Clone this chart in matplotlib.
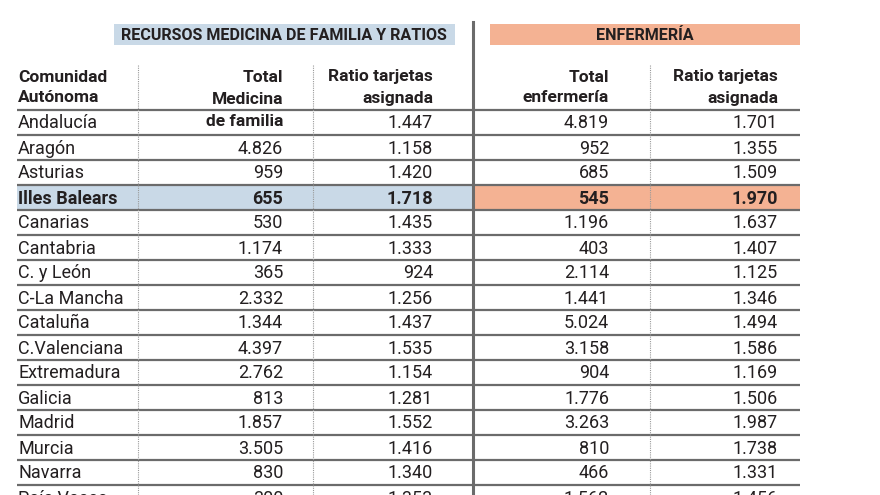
import matplotlib
matplotlib.use("Agg")
import matplotlib.pyplot as plt

# datos de la tabla
comunidades = ["Andalucía", "Aragón", "Asturias", "Illes Balears", "Canarias",
               "Cantabria", "C. y León", "C-La Mancha", "Cataluña",
               "C.Valenciana", "Extremadura", "Galicia", "Madrid", "Murcia",
               "Navarra", "País Vasco"]
total_medicina = ["", "4.826", "959", "655", "530", "1.174", "365", "2.332",
                  "1.344", "4.397", "2.762", "813", "1.857", "3.505", "830",
                  "300"]
ratio_medicina = ["1.447", "1.158", "1.420", "1.718", "1.435", "1.333", "924",
                  "1.256", "1.437", "1.535", "1.154", "1.281", "1.552",
                  "1.416", "1.340", "1.353"]
total_enfermeria = ["4.819", "952", "685", "545", "1.196", "403", "2.114",
                    "1.441", "5.024", "3.158", "904", "1.776", "3.263", "810",
                    "466", "1.562"]
ratio_enfermeria = ["1.701", "1.355", "1.509", "1.970", "1.637", "1.407",
                    "1.125", "1.346", "1.494", "1.586", "1.169", "1.506",
                    "1.987", "1.738", "1.331", "1.456"]
destacada = "Illes Balears"

AZUL = "#c9d9e7"
SALMON = "#f4b293"
TXT = "#231f20"
LINEA = "#6b6b6b"
FUENTE = ["Roboto", "DejaVu Sans"]


def main():
    fig = plt.figure(figsize=(8.8, 4.95), dpi=100)
    ax = fig.add_axes([0, 0, 1, 1])
    ax.set_xlim(0, 880)
    ax.set_ylim(495, 0)
    ax.axis("off")

    y0, alto = 110, 25
    x_izq, x_der = 17, 800
    x_sep = 473
    cols = [283, 433, 609, 778]
    puntos = [138, 313, 650]

    # cabeceras de bloque
    ax.add_patch(plt.Rectangle((114, 24), 341, 21, color=AZUL, lw=0))
    ax.add_patch(plt.Rectangle((490, 24), 310, 21, color=SALMON, lw=0))
    ax.text(284, 35, "RECURSOS MEDICINA DE FAMILIA Y RATIOS", ha="center",
            va="center", fontsize=11.6, fontweight="bold", color=TXT,
            family=FUENTE)
    ax.text(645, 35, "ENFERMERÍA", ha="center", va="center", fontsize=11.6,
            fontweight="bold", color=TXT, family=FUENTE)

    # fila destacada
    i = comunidades.index(destacada)
    ax.add_patch(plt.Rectangle((x_izq, y0 + i * alto), x_sep - x_izq, alto,
                               color=AZUL, lw=0))
    ax.add_patch(plt.Rectangle((x_sep, y0 + i * alto), x_der - x_sep, alto,
                               color=SALMON, lw=0))

    # cabeceras de columna
    kw = dict(fontsize=12.5, fontweight="bold", color=TXT, family=FUENTE,
              va="center")
    ax.text(18, 77, "Comunidad", ha="left", **kw)
    ax.text(18, 98, "Autónoma", ha="left", **kw)
    ax.text(cols[0], 77, "Total", ha="right", **kw)
    ax.text(cols[0], 100, "Medicina", ha="right", **kw)
    ax.text(cols[0], 122, "de familia", ha="right", **kw)
    ax.text(cols[1], 77, "Ratio tarjetas", ha="right", **kw)
    ax.text(cols[1], 98, "asignada", ha="right", **kw)
    ax.text(cols[2], 77, "Total", ha="right", **kw)
    ax.text(cols[2], 98, "enfermería", ha="right", **kw)
    ax.text(cols[3], 77, "Ratio tarjetas", ha="right", **kw)
    ax.text(cols[3], 98, "asignada", ha="right", **kw)

    # lineas horizontales
    for k in range(len(comunidades)):
        y = y0 + k * alto
        ax.plot([x_izq, x_der], [y, y], color=LINEA, lw=1.6,
                solid_capstyle="butt")

    # lineas verticales
    for x in puntos:
        ax.plot([x, x], [65, 495], color="#9a9a9a", lw=0.8, ls=(0, (1, 1)))
    ax.plot([x_sep, x_sep], [22, 495], color=LINEA, lw=2.2)

    # filas
    for k, nombre in enumerate(comunidades):
        y = y0 + k * alto + alto / 2 + 1
        peso = "bold" if nombre == destacada else "normal"
        kw = dict(fontsize=13, fontweight=peso, color=TXT, family=FUENTE,
                  va="center")
        ax.text(18, y, nombre, ha="left", **kw)
        valores = [total_medicina[k], ratio_medicina[k],
                   total_enfermeria[k], ratio_enfermeria[k]]
        for x, v in zip(cols, valores):
            ax.text(x, y, v, ha="right", **kw)

    fig.savefig("out.png", dpi=100, facecolor="white")


if __name__ == "__main__":
    main()
